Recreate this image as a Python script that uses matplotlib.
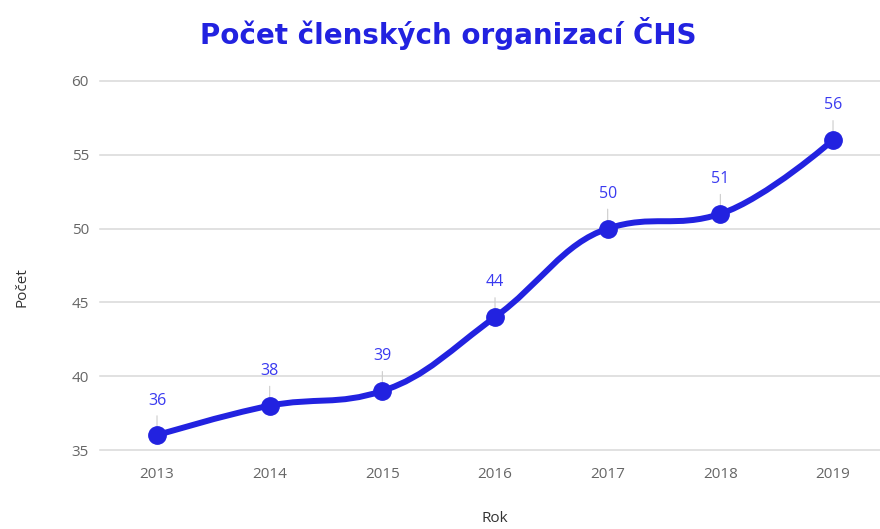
import numpy as np
import matplotlib
matplotlib.use("Agg")
import matplotlib.pyplot as plt
from matplotlib.path import Path
from matplotlib.patches import PathPatch

# dati
roky = [2013, 2014, 2015, 2016, 2017, 2018, 2019]
pocet = [36, 38, 39, 44, 50, 51, 56]
y_ticks = [35, 40, 45, 50, 55, 60]

modra = "#2222e0"
modra_text = "#3a3af0"
seda = "#666666"


def spline_path(xs, ys, k=1.5):
    """Krivka jako v Highcharts (bezier s kontrolnimi body)."""
    n = len(xs)
    lc = [None] * n
    rc = [None] * n
    for i in range(1, n - 1):
        x, y = xs[i], ys[i]
        px, py = xs[i - 1], ys[i - 1]
        nx, ny = xs[i + 1], ys[i + 1]
        lcx = (k * x + px) / (k + 1)
        lcy = (k * y + py) / (k + 1)
        rcx = (k * x + nx) / (k + 1)
        rcy = (k * y + ny) / (k + 1)
        corr = ((rcy - lcy) * (rcx - x)) / (rcx - lcx) + y - rcy
        lcy += corr
        rcy += corr
        if lcy > max(py, y):
            lcy = max(py, y)
            rcy = 2 * y - lcy
        elif lcy < min(py, y):
            lcy = min(py, y)
            rcy = 2 * y - lcy
        if rcy > max(ny, y):
            rcy = max(ny, y)
            lcy = 2 * y - rcy
        elif rcy < min(ny, y):
            rcy = min(ny, y)
            lcy = 2 * y - rcy
        lc[i] = (lcx, lcy)
        rc[i] = (rcx, rcy)
    verts = [(xs[0], ys[0])]
    codes = [Path.MOVETO]
    for i in range(1, n):
        c1 = rc[i - 1] if rc[i - 1] else (xs[i - 1], ys[i - 1])
        c2 = lc[i] if lc[i] else (xs[i], ys[i])
        verts += [c1, c2, (xs[i], ys[i])]
        codes += [Path.CURVE4] * 3
    return Path(verts, codes)


fig = plt.figure(figsize=(8.8, 5.29), dpi=100)
ax = fig.add_axes([100 / 880, 1 - 450 / 529, 780 / 880, 369 / 529])

ax.set_xlim(2012.494, 2019.417)
ax.set_ylim(35, 60)
ax.set_yticks(y_ticks)
ax.set_xticks(roky)
for t in y_ticks:
    ax.axhline(t, color="#d9d9d9", linewidth=1.1, zorder=0, clip_on=False)
for s in ax.spines.values():
    s.set_visible(False)
ax.tick_params(length=0, colors=seda, labelsize=11, pad=12)
for lab in ax.get_xticklabels() + ax.get_yticklabels():
    lab.set_fontfamily("Open Sans")
ax.tick_params(axis="y", pad=8)

ax.add_patch(PathPatch(spline_path(roky, pocet), facecolor="none",
                       edgecolor=modra, linewidth=4.3, capstyle="round", zorder=3))
ax.plot(roky, pocet, "o", color=modra, markersize=12.5, zorder=4)

for x, y in zip(roky, pocet):
    ax.annotate("", xy=(x, y), xytext=(0, 14), textcoords="offset points",
                arrowprops=dict(arrowstyle="-", color="#cccccc", lw=0.8,
                                shrinkA=0, shrinkB=0), zorder=2)
    ax.annotate(str(y), (x, y), xytext=(0, 25), textcoords="offset points",
                ha="center", va="center", color=modra_text, fontsize=11.5,
                family="Open Sans")

fig.text(448 / 880, 1 - 33 / 529, "Počet členských organizací ČHS", ha="center", va="center",
         fontsize=20, fontweight="bold", color=modra, family="DejaVu Sans")
fig.text(22 / 880, 1 - 287 / 529, "Počet", rotation=90, ha="center", va="center",
         fontsize=11, color="#333333", family="Open Sans")
fig.text(495 / 880, 1 - 519 / 529, "Rok", ha="center", va="center",
         fontsize=11, color="#333333", family="Open Sans")

fig.savefig("out.png", dpi=100)
